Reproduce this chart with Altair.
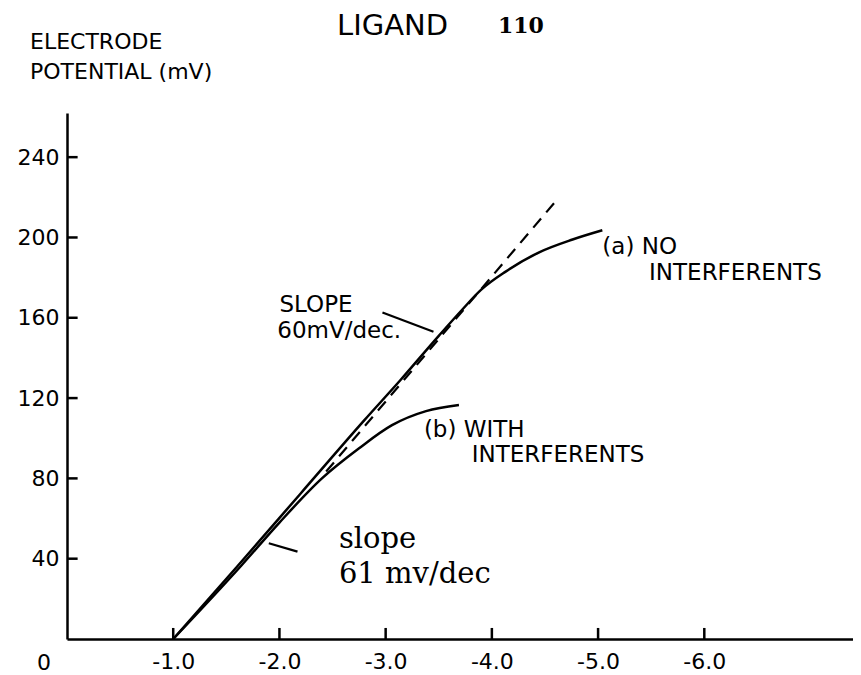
import altair as alt
import pandas as pd

# ---- data ----
# curve (a): no interferents
a_x = [-1.0, -1.6, -2.2, -2.8, -3.14, -3.5, -3.72, -3.9, -4.13, -4.44, -4.76, -5.04]
a_y = [0, 36, 72.5, 109, 129, 151, 164, 174, 183, 192.5, 199, 203.6]
# curve (b): with interferents
b_x = [-1.0, -1.64, -2.0, -2.4, -2.75, -3.06, -3.38, -3.69]
b_y = [0, 36.5, 58, 80, 95, 106.5, 113.5, 116.5]
# dashed tangent (61 mV/dec)
d_x = [-2.44, -4.6]
d_y = [83.4, 218]

x_ticks = [-1.0, -2.0, -3.0, -4.0, -5.0, -6.0]
y_ticks = [40, 80, 120, 160, 200, 240]

# annotations (data units)
sans_labels = ["(a) NO", "INTERFERENTS", "(b) WITH", "INTERFERENTS", "SLOPE", "60mV/dec."]
sans_x = [-5.04, -5.48, -3.36, -3.81, -2.0, -1.98]
sans_y = [195.3, 182.5, 104.2, 91.5, 166.6, 153.4]

serif_labels = ["slope", "61 mv/dec"]
serif_x = [-2.56, -2.56]
serif_y = [45.4, 27.9]

lead_x = [-2.97, -1.90]
lead_y = [162.6, 47.7]
lead_x2 = [-3.45, -2.17]
lead_y2 = [153.0, 43.5]

W, H = 786, 526
X_DOM = [-7.4, 0]
Y_DOM = [0, 262]
SANS = "DejaVu Sans"
SERIF = "DejaVu Serif"
TICK_LEN_Y = 5.5    # inward tick length on the x axis, mV units (~11 px)
TICK_LEN_X = 0.1    # inward tick length on the y axis, decades (~11 px)

xs = alt.Scale(domain=X_DOM, reverse=True, nice=False, zero=False)
ys = alt.Scale(domain=Y_DOM, nice=False, zero=False)

curves = pd.DataFrame(
    {"x": a_x + b_x,
     "y": a_y + b_y,
     "series": ["a"] * len(a_x) + ["b"] * len(b_x),
     "order": list(range(len(a_x))) + list(range(len(b_x)))}
)
dashed = pd.DataFrame({"x": d_x, "y": d_y})

# tick segments built from the tick lists
ticks_df = pd.DataFrame({
    "x": x_ticks + [0.0] * len(y_ticks),
    "x2": x_ticks + [-TICK_LEN_X] * len(y_ticks),
    "y": [0.0] * len(x_ticks) + y_ticks,
    "y2": [TICK_LEN_Y] * len(x_ticks) + y_ticks,
})

x_axis = alt.Axis(values=x_ticks, labelExpr="'-' + format(abs(datum.value), '.1f')",
                  ticks=False, tickSize=0, grid=False, domainColor="black", domainWidth=2.5,
                  labelFont=SANS, labelFontSize=22, labelColor="black", labelPadding=12,
                  title=None, labelFlush=False, labelOverlap=False)
y_axis = alt.Axis(values=y_ticks, ticks=False, tickSize=0, grid=False, domainColor="black",
                  domainWidth=2.5, labelFont=SANS, labelFontSize=22, labelColor="black",
                  labelPadding=8, title=None, labelFlush=False, labelOverlap=False)

base = alt.Chart(curves).mark_line(color="black", strokeWidth=2.5, interpolate="monotone").encode(
    x=alt.X("x:Q", scale=xs, axis=x_axis),
    y=alt.Y("y:Q", scale=ys, axis=y_axis),
    detail="series:N",
    order="order:Q",
)

dash = alt.Chart(dashed).mark_line(color="black", strokeWidth=2.2, strokeDash=[12, 8]).encode(
    x="x:Q", y="y:Q"
)

tick_marks = alt.Chart(ticks_df).mark_rule(color="black", strokeWidth=2.5).encode(
    x="x:Q", y="y:Q", x2="x2:Q", y2="y2:Q"
)

sans = alt.Chart(pd.DataFrame({"x": sans_x, "y": sans_y, "t": sans_labels})).mark_text(
    align="left", baseline="middle", font=SANS, fontSize=23, color="black"
).encode(x="x:Q", y="y:Q", text="t:N")

serif = alt.Chart(pd.DataFrame({"x": serif_x, "y": serif_y, "t": serif_labels})).mark_text(
    align="left", baseline="alphabetic", font=SERIF, fontSize=29, color="black"
).encode(x="x:Q", y="y:Q", text="t:N")

leads = alt.Chart(pd.DataFrame({"x": lead_x, "y": lead_y, "x2": lead_x2, "y2": lead_y2})).mark_rule(
    color="black", strokeWidth=2.2
).encode(x="x:Q", y="y:Q", x2="x2:Q", y2="y2:Q")

origin = alt.Chart(pd.DataFrame({"x": [0], "y": [0], "t": ["0"]})).mark_text(
    align="center", baseline="middle", font=SANS, fontSize=22, color="black", dx=-23, dy=24
).encode(x="x:Q", y="y:Q", text="t:N")

t1 = alt.Chart(pd.DataFrame({"t": ["LIGAND"]})).mark_text(
    align="left", baseline="middle", font=SANS, fontSize=29, color="black"
).encode(text="t:N", x=alt.value(270), y=alt.value(-87))
t2 = alt.Chart(pd.DataFrame({"t": ["110"]})).mark_text(
    align="left", baseline="middle", font=SERIF, fontSize=22, fontWeight="bold", color="black"
).encode(text="t:N", x=alt.value(431), y=alt.value(-87))
t3 = alt.Chart(pd.DataFrame({"t": ["ELECTRODE"]})).mark_text(
    align="left", baseline="middle", font=SANS, fontSize=22, color="black"
).encode(text="t:N", x=alt.value(-37), y=alt.value(-71.5))
t4 = alt.Chart(pd.DataFrame({"t": ["POTENTIAL (mV)"]})).mark_text(
    align="left", baseline="middle", font=SANS, fontSize=22, color="black"
).encode(text="t:N", x=alt.value(-37), y=alt.value(-41))

chart = alt.layer(base, dash, tick_marks, leads, sans, serif, origin, t1, t2, t3, t4).properties(
    width=W, height=H,
    autosize=alt.AutoSizeParams(type="none"),
    padding={"left": 59, "top": 105, "right": 0, "bottom": 36},
    background="white",
).configure_view(stroke=None)

chart.save("out.html", embed_options={"renderer": "svg", "actions": False})
